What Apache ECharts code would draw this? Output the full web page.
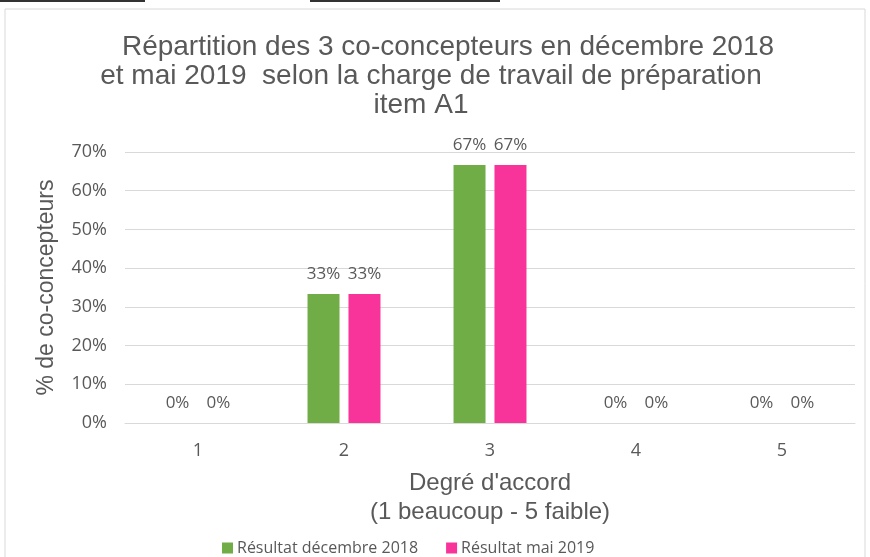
<!DOCTYPE html>
<html><head><meta charset="utf-8">
<script src="https://cdn.jsdelivr.net/npm/echarts@6/dist/echarts.min.js"></script>
<style>html,body{margin:0;padding:0;background:#fff}#c{width:870px;height:557px}</style>
</head><body><div id="c"></div>
<script>
const categories = ['1','2','3','4','5'];
const seriesNames = ['Résultat décembre 2018','Résultat mai 2019'];
const dec2018 = [0, 0.3333, 0.6667, 0, 0];
const mai2019 = [0, 0.3333, 0.6667, 0, 0];
const titleLines = ['Répartition des 3 co-concepteurs en décembre 2018','et mai 2019  selon la charge de travail de préparation','item A1'];

const chart = echarts.init(document.getElementById('c'));
const txt = '#595959';
const lbl = {show:true, position:'top', distance:11, color:txt, fontSize:17, fontFamily:'Open Sans',
  formatter: p => Math.round(p.value*100)+'%'};
const tStyle = {fontFamily:'Liberation Sans', fontSize:28, fontWeight:'normal', color:txt};
chart.setOption({
  animation:false,
  graphic:[
    {type:'rect', shape:{x:5,y:9,width:860,height:560}, style:{fill:'none', stroke:'#d9d9d9', lineWidth:1}},
    {type:'rect', shape:{x:0,y:0,width:145,height:2}, style:{fill:'#333'}},
    {type:'rect', shape:{x:310,y:0,width:190,height:2}, style:{fill:'#333'}}
  ],
  title: [
    {text:titleLines[0], left:443, top:28, textAlign:'center', textStyle:tStyle},
    {text:titleLines[1], left:426, top:57, textAlign:'center', textStyle:tStyle},
    {text:titleLines[2], left:416, top:86, textAlign:'center', textStyle:tStyle}
  ],
  legend:{data:seriesNames, top:540, left:222, padding:0, itemWidth:11, itemHeight:11, itemGap:28, icon:'rect',
    textStyle:{color:txt, fontSize:16, fontFamily:'Open Sans', padding:[0,0,0,-1]}},
  grid:{left:125, right:15, top:152, bottom:134},
  xAxis:{type:'category', data:categories,
    axisLine:{lineStyle:{color:'#d9d9d9'}}, axisTick:{show:false},
    axisLabel:{color:txt, fontSize:18, fontFamily:'Open Sans', margin:19},
    name:'Degré d\'accord\n(1 beaucoup - 5 faible)', nameLocation:'middle', nameGap:46,
    nameTextStyle:{color:txt, fontSize:24, fontFamily:'Liberation Sans', lineHeight:29}},
  yAxis:{type:'value', min:0, max:0.7, interval:0.1,
    axisLine:{show:false}, axisTick:{show:false},
    splitLine:{lineStyle:{color:'#d9d9d9'}},
    axisLabel:{color:txt, fontSize:18, fontFamily:'Open Sans', margin:18, formatter:v=>Math.round(v*100)+'%'},
    name:'% de co-concepteurs', nameLocation:'middle', nameGap:67, nameRotate:90,
    nameTextStyle:{color:txt, fontSize:23, fontFamily:'Liberation Sans'}},
  series:[
    {name:seriesNames[0], type:'bar', data:dec2018, barWidth:32, barGap:'28%', itemStyle:{color:'#70ad47'}, label:lbl},
    {name:seriesNames[1], type:'bar', data:mai2019, barWidth:32, itemStyle:{color:'#f8339a'}, label:lbl}
  ]
});
</script></body></html>
